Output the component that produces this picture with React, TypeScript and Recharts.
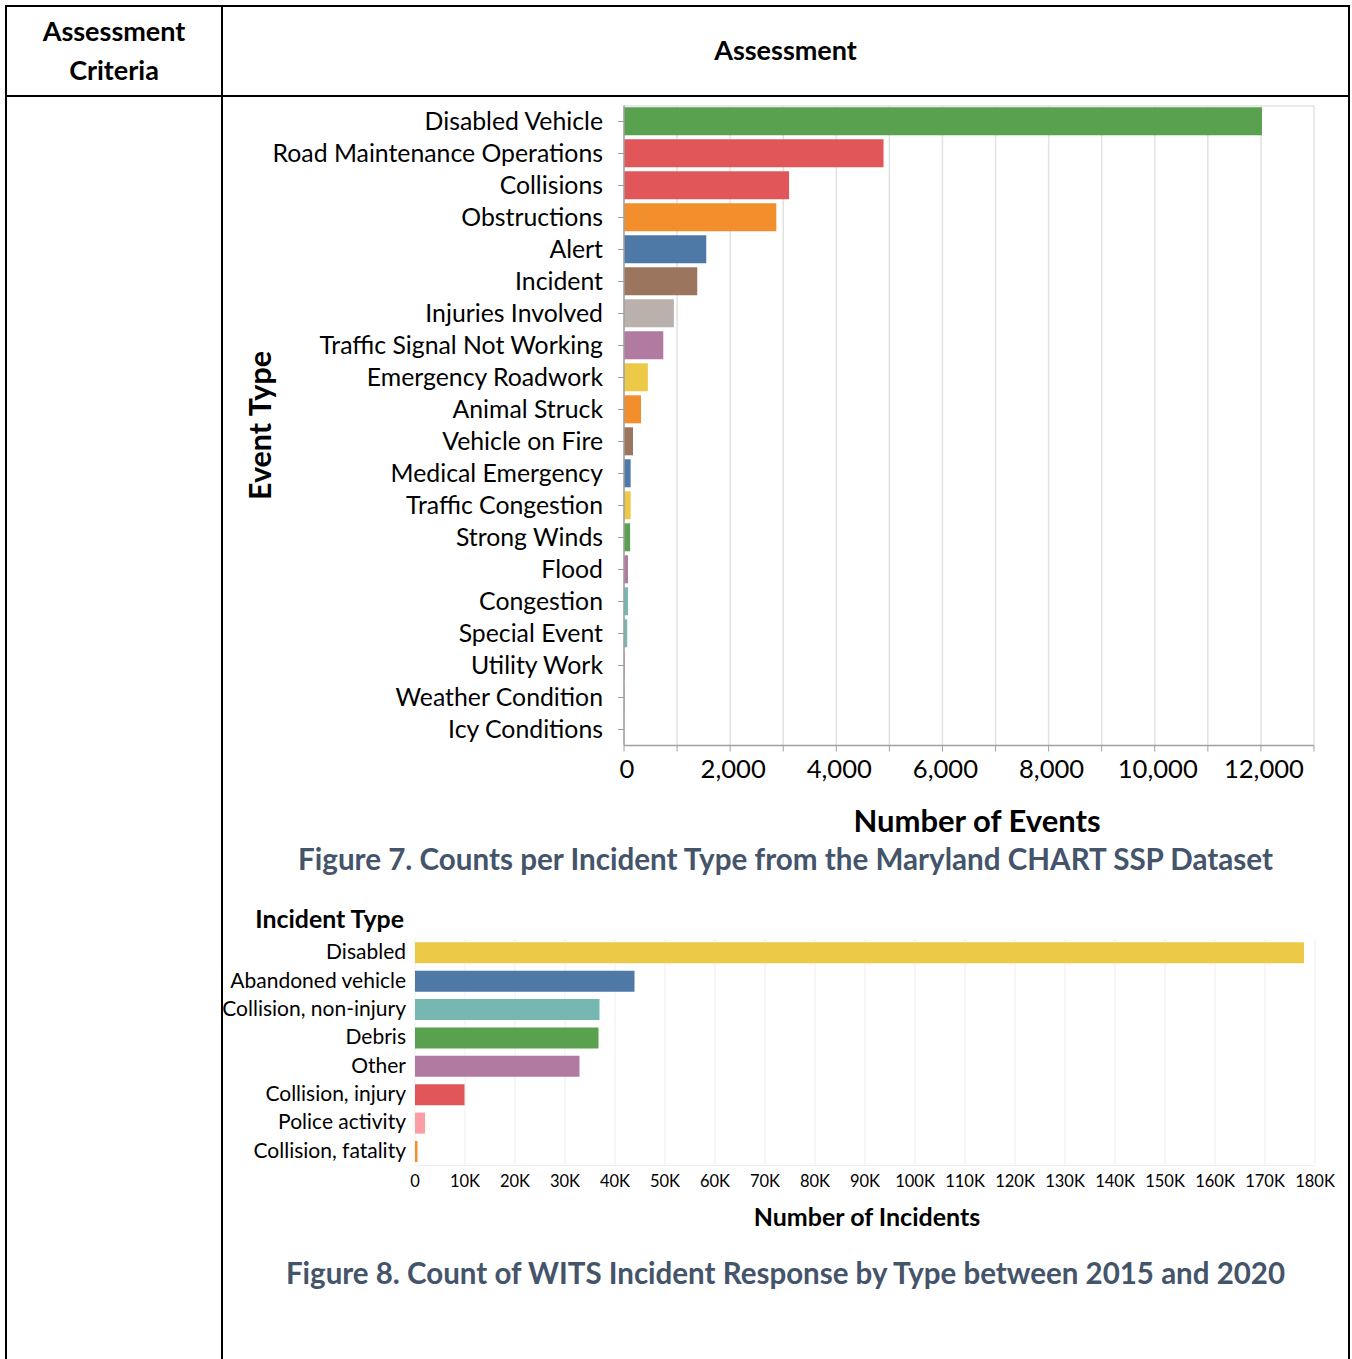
import React from 'react';
import { BarChart, Bar, XAxis, YAxis, CartesianGrid, Cell, Label } from 'recharts';

const eventTypes = [
  'Disabled Vehicle', 'Road Maintenance Operations', 'Collisions', 'Obstructions', 'Alert',
  'Incident', 'Injuries Involved', 'Traffic Signal Not Working', 'Emergency Roadwork', 'Animal Struck',
  'Vehicle on Fire', 'Medical Emergency', 'Traffic Congestion', 'Strong Winds', 'Flood',
  'Congestion', 'Special Event', 'Utility Work', 'Weather Condition', 'Icy Conditions',
];
const eventCounts = [12020, 4890, 3110, 2870, 1550, 1380, 940, 740, 450, 320, 170, 125, 125, 115, 75, 75, 60, 20, 5, 5];
const eventColors = [
  '#59a14f', '#e15759', '#e15759', '#f28e2b', '#4e79a7',
  '#9c755f', '#bab0ac', '#b07aa1', '#edc948', '#f28e2b',
  '#9c755f', '#4e79a7', '#edc948', '#59a14f', '#b07aa1',
  '#76b7b2', '#76b7b2', '#ff9da7', '#9c755f', '#bab0ac',
];
const eventTicks = [0, 1000, 2000, 3000, 4000, 5000, 6000, 7000, 8000, 9000, 10000, 11000, 12000, 13000];

const incidentTypes = [
  'Disabled', 'Abandoned vehicle', 'Collision, non-injury', 'Debris', 'Other',
  'Collision, injury', 'Police activity', 'Collision, fatality',
];
const incidentCounts = [177800, 43900, 36900, 36700, 32900, 9900, 2000, 500];
const incidentColors = ['#edc948', '#4e79a7', '#76b7b2', '#59a14f', '#b07aa1', '#e15759', '#ff9da7', '#f28e2b'];
const incidentTicks = [0, 10000, 20000, 30000, 40000, 50000, 60000, 70000, 80000, 90000, 100000, 110000, 120000, 130000, 140000, 150000, 160000, 170000, 180000];

const FONT = 'Lato, "Noto Sans", sans-serif';
const CAPTION = '#44546a';

const eventData = eventTypes.map((name, i) => ({ name, value: eventCounts[i] }));
const incidentData = incidentTypes.map((name, i) => ({ name, value: incidentCounts[i] }));

const fmtEvent = (v: number) => (v % 2000 === 0 && v <= 12000 ? v.toLocaleString('en-US') : '');
const fmtIncident = (v: number) => (v === 0 ? '0' : `${v / 1000}K`);

const line = (style: React.CSSProperties) => (
  <div style={{ position: 'absolute', background: '#000', ...style }} />
);

export default function App() {
  return (
    <div style={{ position: 'absolute', left: 0, top: 0, width: 1352, height: 1359, background: '#fff', fontFamily: FONT, overflow: 'hidden' }}>
      {line({ left: 5, top: 5, width: 1345, height: 2 })}
      {line({ left: 5, top: 5, width: 2, height: 1354 })}
      {line({ left: 1348, top: 5, width: 2, height: 1354 })}
      {line({ left: 221, top: 5, width: 2, height: 1354 })}
      {line({ left: 5, top: 95, width: 1345, height: 2 })}

      <div style={{ position: 'absolute', left: 7, width: 214, top: 11, textAlign: 'center', fontWeight: 700, fontSize: 27, lineHeight: '39px', color: '#000' }}>
        Assessment<br />Criteria
      </div>
      <div style={{ position: 'absolute', left: 223, width: 1125, top: 32, textAlign: 'center', fontWeight: 700, fontSize: 27, lineHeight: '36px', color: '#000' }}>
        Assessment
      </div>

      <div style={{ position: 'absolute', left: 0, top: 0 }}>
        <BarChart
          width={1352}
          height={860}
          data={eventData}
          layout="vertical"
          margin={{ top: 105.5, right: 38, left: 240, bottom: 20 }}
          barCategoryGap={1.8}
        >
          <CartesianGrid vertical horizontal horizontalPoints={[106]} stroke="#e2e2e2" strokeWidth={1.5} />
          <XAxis
            type="number"
            domain={[0, 13000]}
            ticks={eventTicks}
            tickFormatter={fmtEvent}
            interval={0}
            height={94.5}
            tickSize={6}
            tickMargin={8}
            axisLine={{ stroke: '#a0a0a0', strokeWidth: 1.5 }}
            tickLine={{ stroke: '#a0a0a0' }}
            tick={{ fill: '#000', fontSize: 25.6, fontFamily: FONT, dx: 3 }}
          >
            <Label value="Number of Events" position="insideBottom" offset={8} dx={8} fill="#000" fontSize={31} fontWeight={700} fontFamily={FONT} />
          </XAxis>
          <YAxis
            type="category"
            dataKey="name"
            width={384}
            interval={0}
            tickSize={6}
            tickMargin={15}
            axisLine={{ stroke: '#a0a0a0', strokeWidth: 1.5 }}
            tickLine={{ stroke: '#a0a0a0' }}
            tick={{ fill: '#000', fontSize: 24.8, fontFamily: FONT }}
          >
            <Label value="Event Type" angle={-90} position="insideLeft" offset={20} fill="#000" fontSize={30.5} fontWeight={700} fontFamily={FONT} style={{ textAnchor: 'middle' }} />
          </YAxis>
          <Bar dataKey="value" isAnimationActive={false}>
            {eventData.map((d, i) => (
              <Cell key={d.name} fill={eventColors[i]} />
            ))}
          </Bar>
        </BarChart>
      </div>

      <div style={{ position: 'absolute', left: 223, width: 1125, top: 840, textAlign: 'center', fontWeight: 700, fontSize: 29.6, lineHeight: '38px', color: CAPTION }}>
        Figure 7. Counts per Incident Type from the Maryland CHART SSP Dataset
      </div>

      <div style={{ position: 'absolute', left: 0, width: 404, top: 902, textAlign: 'right', fontWeight: 700, fontSize: 24.9, lineHeight: '32px', color: '#000' }}>
        Incident Type
      </div>

      <div style={{ position: 'absolute', left: 0, top: 900 }}>
        <BarChart
          width={1352}
          height={340}
          data={incidentData}
          layout="vertical"
          margin={{ top: 38.5, right: 37, left: 0, bottom: 10 }}
          barCategoryGap={3.85}
        >
          <CartesianGrid vertical horizontal={false} stroke="#efefef" />
          <XAxis
            type="number"
            domain={[0, 180000]}
            ticks={incidentTicks}
            tickFormatter={fmtIncident}
            interval={0}
            height={64.5}
            tickSize={0}
            tickMargin={10}
            axisLine={{ stroke: '#efefef' }}
            tickLine={false}
            tick={{ fill: '#000', fontSize: 16.5, fontFamily: FONT }}
          >
            <Label value="Number of Incidents" position="insideBottom" offset={4} dx={2} fill="#000" fontSize={25} fontWeight={700} fontFamily={FONT} />
          </XAxis>
          <YAxis
            type="category"
            dataKey="name"
            width={415}
            interval={0}
            tickSize={0}
            tickMargin={9}
            axisLine={false}
            tickLine={false}
            tick={{ fill: '#000', fontSize: 21, fontFamily: FONT, dy: -1 }}
          />
          <Bar dataKey="value" isAnimationActive={false}>
            {incidentData.map((d, i) => (
              <Cell key={d.name} fill={incidentColors[i]} />
            ))}
          </Bar>
        </BarChart>
      </div>

      <div style={{ position: 'absolute', left: 223, width: 1125, top: 1254, textAlign: 'center', fontWeight: 700, fontSize: 29.5, lineHeight: '38px', color: CAPTION }}>
        Figure 8. Count of WITS Incident Response by Type between 2015 and 2020
      </div>
    </div>
  );
}
